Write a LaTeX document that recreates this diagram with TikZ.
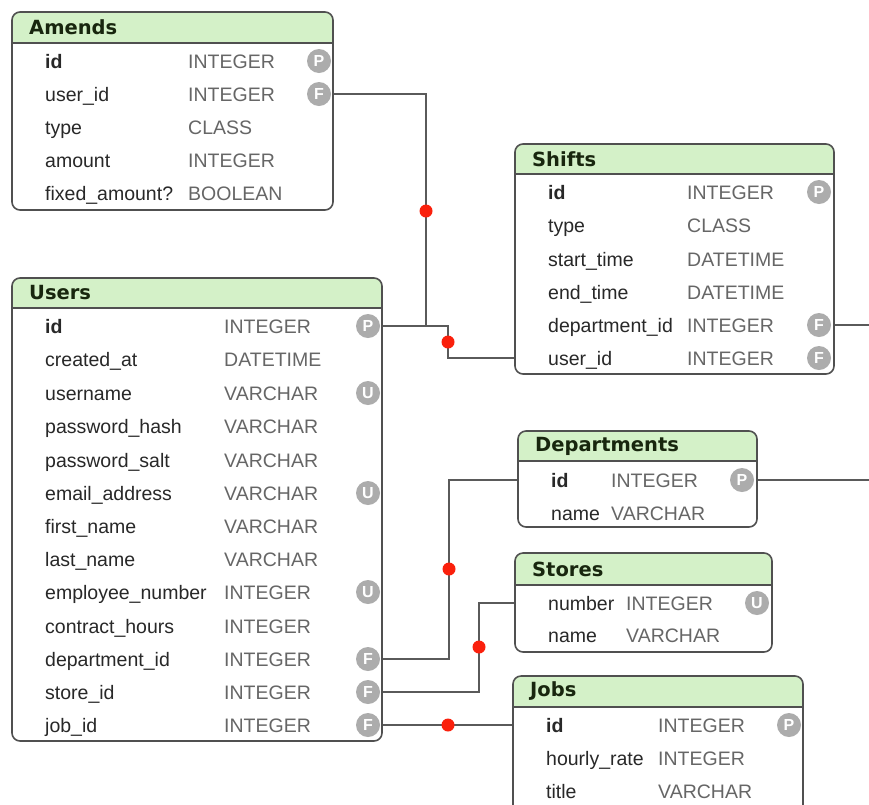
\documentclass[tikz,border=0pt]{standalone}
\usepackage{fontspec}
\setmainfont{Liberation Sans}
\newfontfamily\hdfont{DejaVu Sans}

\definecolor{hdrgreen}{RGB}{212,241,200}
\definecolor{framec}{RGB}{80,80,80}
\definecolor{wirec}{RGB}{90,90,90}
\definecolor{fieldc}{RGB}{40,40,40}
\definecolor{typec}{RGB}{102,102,102}
\definecolor{badgec}{RGB}{172,172,172}
\definecolor{dotred}{RGB}{250,32,12}
\definecolor{hdrtext}{RGB}{24,38,14}

\tikzset{
  field/.style={anchor=base west, inner sep=0pt, text=fieldc,
    font=\fontsize{19.5}{20}\selectfont},
  ftype/.style={field, text=typec},
  badge/.style={circle, fill=badgec, minimum size=24pt, inner sep=0pt,
    text=white, font=\fontsize{16}{16}\selectfont\bfseries},
  tabletitle/.style={anchor=west, inner sep=0pt, text=hdrtext,
    font=\hdfont\bfseries\fontsize{19.5}{20}\selectfont},
  frame/.style={draw=framec, line width=1.6pt},
  wire/.style={draw=wirec, line width=2.4pt},
  joint/.style={circle, fill=dotred, minimum size=13pt, inner sep=0pt},
}

% \erbox{id}{left}{top}{right}{header bottom}{bottom}{title}
\newcommand{\erbox}[7]{%
  \begin{scope}
    \clip[rounded corners=8pt] (#2,#3) rectangle (#4,#6);
    \fill[hdrgreen] (#2,#3) rectangle (#4,#5);
    \fill[white] (#2,#5) rectangle (#4,#6);
  \end{scope}
  \draw[frame] (#2,#5) -- (#4,#5);
  \draw[frame, rounded corners=8pt] (#2,#3) rectangle (#4,#6);
  \node[tabletitle] (#1-title) at ({#2+17},{(#3+#5)/2}) {#7};
}
% \erow{id}{row y}{name x}{name}{type x}{type}
\newcommand{\erow}[6]{%
  \node[field] (#1-n) at (#3,{#2+7}) {#4};
  \node[ftype] (#1-t) at (#5,{#2+7}) {#6};
}

\begin{document}
\begin{tikzpicture}[x=1pt, y=-1pt]
\useasboundingbox (0,0) rectangle (869,804);
\clip (0,0) rectangle (869,804);

% connector end points on table borders
\coordinate (am-uid) at (333,94);
\coordinate (us-id) at (382,326);
\coordinate (sh-uid) at (515,358);
\coordinate (sh-did) at (834,325);
\coordinate (dp-id) at (757,480);
\coordinate (dp-in) at (518,480);
\coordinate (us-did) at (382,659);
\coordinate (us-sid) at (382,692);
\coordinate (st-in) at (515,603);
\coordinate (us-jid) at (382,725);
\coordinate (jb-in) at (513,725);
\coordinate (far-r) at (878,325);

% relations
\draw[wire] (am-uid) -| (426,326);
\draw[wire] (us-id) -- (448,326) |- (sh-uid);
\draw[wire] (sh-did) -- (far-r) |- (dp-id);
\draw[wire] (us-did) -| (449,480) -- (dp-in);
\draw[wire] (us-sid) -| (479,603) -- (st-in);
\draw[wire] (us-jid) -- (jb-in);

\node[joint] (j1) at (426,211) {};
\node[joint] (j2) at (448,342) {};
\node[joint] (j3) at (877,401) {};
\node[joint] (j4) at (449,569) {};
\node[joint] (j5) at (479,647) {};
\node[joint] (j6) at (448,725) {};

% Amends
\erbox{am}{12}{12}{333}{43}{210}{Amends}
\erow{am1}{61}{45}{\bfseries id}{188}{INTEGER}
\erow{am2}{94}{45}{user\_id}{188}{INTEGER}
\erow{am3}{127}{45}{type}{188}{CLASS}
\erow{am4}{160}{45}{amount}{188}{INTEGER}
\erow{am5}{193}{45}{fixed\_amount?}{188}{BOOLEAN}
\node[badge] (am1-b) at (319,61) {P};
\node[badge] (am2-b) at (319,94) {F};

% Users
\erbox{us}{12}{278}{382}{308}{741}{Users}
\erow{us1}{326}{45}{\bfseries id}{224}{INTEGER}
\erow{us2}{359}{45}{created\_at}{224}{DATETIME}
\erow{us3}{393}{45}{username}{224}{VARCHAR}
\erow{us4}{426}{45}{password\_hash}{224}{VARCHAR}
\erow{us5}{460}{45}{password\_salt}{224}{VARCHAR}
\erow{us6}{493}{45}{email\_address}{224}{VARCHAR}
\erow{us7}{526}{45}{first\_name}{224}{VARCHAR}
\erow{us8}{559}{45}{last\_name}{224}{VARCHAR}
\erow{us9}{592}{45}{employee\_number}{224}{INTEGER}
\erow{us10}{626}{45}{contract\_hours}{224}{INTEGER}
\erow{us11}{659}{45}{department\_id}{224}{INTEGER}
\erow{us12}{692}{45}{store\_id}{224}{INTEGER}
\erow{us13}{725}{45}{job\_id}{224}{INTEGER}
\node[badge] (us1-b) at (368,326) {P};
\node[badge] (us3-b) at (368,393) {U};
\node[badge] (us6-b) at (368,493) {U};
\node[badge] (us9-b) at (368,592) {U};
\node[badge] (us11-b) at (368,659) {F};
\node[badge] (us12-b) at (368,692) {F};
\node[badge] (us13-b) at (368,725) {F};

% Shifts
\erbox{sh}{515}{144}{834}{174}{374}{Shifts}
\erow{sh1}{192}{548}{\bfseries id}{687}{INTEGER}
\erow{sh2}{225}{548}{type}{687}{CLASS}
\erow{sh3}{259}{548}{start\_time}{687}{DATETIME}
\erow{sh4}{292}{548}{end\_time}{687}{DATETIME}
\erow{sh5}{325}{548}{department\_id}{687}{INTEGER}
\erow{sh6}{358}{548}{user\_id}{687}{INTEGER}
\node[badge] (sh1-b) at (819,192) {P};
\node[badge] (sh5-b) at (819,325) {F};
\node[badge] (sh6-b) at (819,358) {F};

% Departments
\erbox{dp}{518}{431}{757}{461}{527}{Departments}
\erow{dp1}{480}{551}{\bfseries id}{611}{INTEGER}
\erow{dp2}{513}{551}{name}{611}{VARCHAR}
\node[badge] (dp1-b) at (742,480) {P};

% Stores
\erbox{st}{515}{553}{772}{585}{652}{Stores}
\erow{st1}{603}{548}{number}{626}{INTEGER}
\erow{st2}{635}{548}{name}{626}{VARCHAR}
\node[badge] (st1-b) at (757,603) {U};

% Jobs
\erbox{jb}{513}{676}{803}{707}{830}{Jobs}
\erow{jb1}{725}{546}{\bfseries id}{658}{INTEGER}
\erow{jb2}{758}{546}{hourly\_rate}{658}{INTEGER}
\erow{jb3}{791}{546}{title}{658}{VARCHAR}
\node[badge] (jb1-b) at (789,725) {P};
\end{tikzpicture}
\end{document}
